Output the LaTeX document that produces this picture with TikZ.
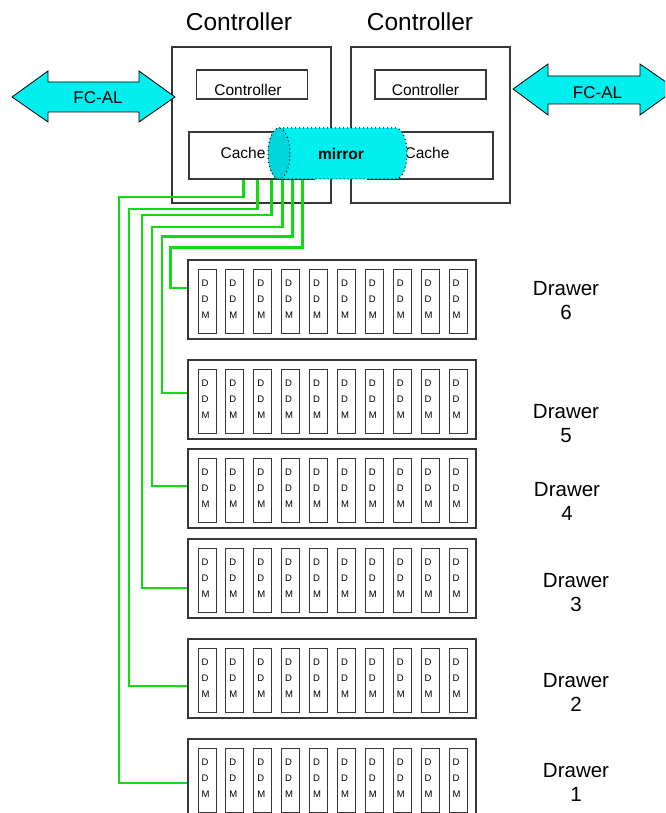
\documentclass[tikz,border=0pt]{standalone}
\usepackage{fontspec}
\setmainfont{Liberation Sans}
\definecolor{fccyan}{RGB}{0,238,238}
\definecolor{facecyan}{RGB}{0,212,220}
\definecolor{wiregreen}{RGB}{15,220,15}
\definecolor{boxgray}{RGB}{55,55,55}
\begin{document}
\begin{tikzpicture}[x=1pt,y=-1pt,
  title/.style={font=\fontsize{24.5}{28}\selectfont, inner sep=0},
  txt/.style={font=\fontsize{15.5}{18}\selectfont, inner sep=0},
  fctxt/.style={font=\fontsize{17}{20}\selectfont, inner sep=0},
  lbl/.style={font=\fontsize{20.5}{24}\selectfont, align=center, inner sep=0},
  ctrl/.style={draw=boxgray, line width=1.1pt, minimum width=159pt, minimum height=156pt, inner sep=0},
  innerbox/.style={draw=boxgray, line width=1.1pt, minimum width=111pt, minimum height=29pt, inner sep=0},
  cachebox/.style={draw=boxgray, line width=1.1pt, minimum width=125pt, minimum height=47pt, inner sep=0},
  fcarrow/.style={fill=fccyan, draw=black, line width=0.8pt, line join=miter},
  mirrorline/.style={draw=black, line width=1pt, dash pattern=on 1pt off 3pt},
  wire/.style={draw=wiregreen, line width=2.8pt},
  drawer/.style={draw=boxgray, line width=1.4pt, minimum width=288pt, minimum height=79pt, inner sep=0},
  slot/.style={draw=boxgray, line width=0.9pt, minimum width=18pt, minimum height=64pt, inner sep=0,
    text width=11pt, align=left, text depth=35.5pt, font=\fontsize{9.5}{16.2}\selectfont}
]
\useasboundingbox (0,0) rectangle (665,813);
\clip (0,0) rectangle (665,813);

% titles
\node[title] (tL) at (239,22) {Controller};
\node[title] (tR) at (420,22) {Controller};

% controller boxes
\node[ctrl] (cL) at (251.5,125) {};
\node[ctrl] (cR) at (430.5,125) {};
\node[innerbox] (iL) at (252,84.5) {};
\node[innerbox] (iR) at (430.5,84.5) {};
\node[txt] (iLt) at (248,90) {Controller};
\node[txt] (iRt) at (425.5,90) {Controller};
\node[cachebox] (kL) at (251.5,155.5) {};
\node[cachebox] (kR) at (430.5,155.5) {};
\node[txt] (kLt) at (243,153) {Cache};
\node[txt] (kRt) at (427,153) {Cache};

% FC-AL arrows
\draw[fcarrow] (12,97) -- (48,71) -- (48,82) -- (139,82) -- (139,71) -- (175,97)
  -- (139,122) -- (139,112) -- (48,112) -- (48,122) -- cycle;
\node[fctxt] (fcL) at (98,98) {FC-AL};
\draw[fcarrow] (513,89) -- (548,64) -- (548,76) -- (640,76) -- (640,64) -- (676,89)
  -- (640,115) -- (640,104) -- (548,104) -- (548,115) -- cycle;
\node[fctxt] (fcR) at (597.5,93) {FC-AL};

% mirror cylinder
\path[fill=fccyan] (279,128) -- (396,128) arc[start angle=90, end angle=-90, x radius=11pt, y radius=25.5pt]
  -- (279,179) arc[start angle=270, end angle=90, x radius=11pt, y radius=25.5pt] -- cycle;
\draw[mirrorline] (279,128) -- (396,128) arc[start angle=90, end angle=-90, x radius=11pt, y radius=25.5pt]
  -- (279,179);
\path[fill=facecyan] (279,153.5) ellipse [x radius=11pt, y radius=25.5pt];
\draw[mirrorline] (279,153.5) ellipse [x radius=11pt, y radius=25.5pt];
\node[font=\bfseries\fontsize{15.5}{18}\selectfont, inner sep=0] (mirror) at (341,154) {mirror};

% drawers
\foreach \n/\t in {6/260,5/360,4/449,3/539,2/639,1/739} {
  \node[drawer] (d\n) at (332,\t+39.5) {};
  \foreach \i in {0,...,9}
    \node[slot] (d\n s\i) at (207+27.9*\i,\t+41) {D\\D\\M};
}

% wires
\draw[wire] ([xshift=55pt]kL.south west) |- (119,197) |- (d1.west |- 0,783);
\draw[wire] ([xshift=69pt]kL.south west) |- (129,209) |- (d2.west |- 0,686);
\draw[wire] ([xshift=83pt]kL.south west) |- (142,215) |- (d3.west |- 0,588);
\draw[wire] ([xshift=94pt]kL.south west) |- (152,227) |- (d4.west |- 0,486);
\draw[wire] ([xshift=104pt]kL.south west) |- (162,236.5) |- (d5.west |- 0,393);
\draw[wire] ([xshift=114pt]kL.south west) |- (170.5,247.5) |- (d6.west |- 0,288);

% drawer labels
\node[lbl] (l6) at (566,301) {Drawer\\6};
\node[lbl] (l5) at (566,424) {Drawer\\5};
\node[lbl] (l4) at (567,501.5) {Drawer\\4};
\node[lbl] (l3) at (576,592.5) {Drawer\\3};
\node[lbl] (l2) at (576,692.5) {Drawer\\2};
\node[lbl] (l1) at (576,782.5) {Drawer\\1};
\end{tikzpicture}
\end{document}
